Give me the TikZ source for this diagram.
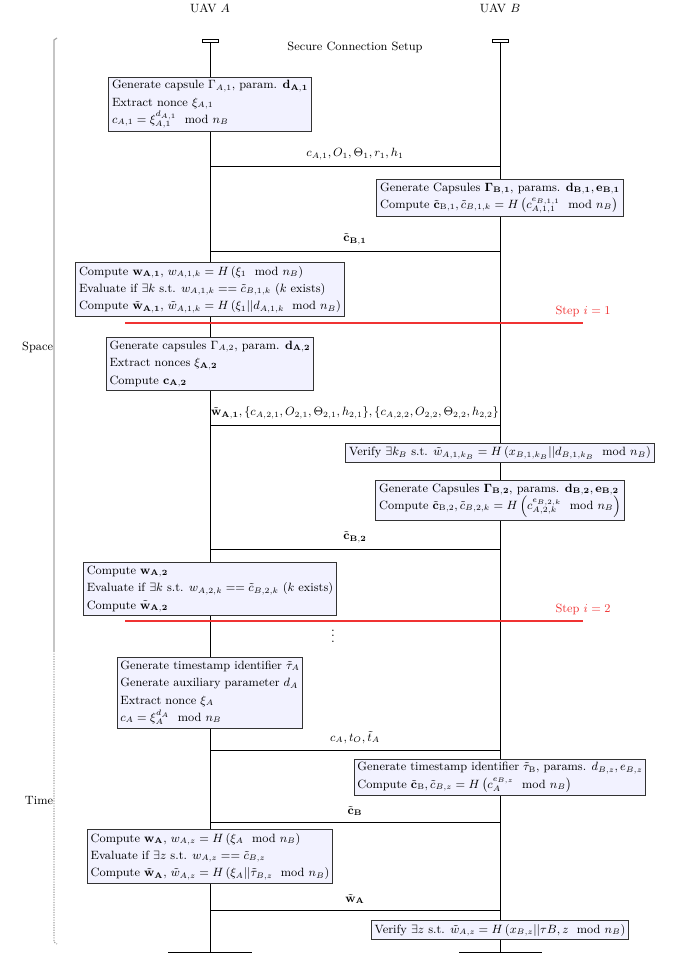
\documentclass[tikz,border=0pt]{standalone}
\usepackage{amsmath}
\definecolor{steprd}{RGB}{240,50,50}
\begin{document}
\begin{tikzpicture}[x=0.75pt,y=-0.75pt,
  box/.style={draw=black!80, line width=0.8pt, fill=blue!5, align=left, inner sep=2.5pt, font=\fontsize{9}{13}\selectfont},
  life/.style={line width=0.6pt},
  msg/.style={line width=0.6pt},
  lbl/.style={font=\fontsize{9}{11}\selectfont, above=1pt, midway},
  hdr/.style={font=\fontsize{9}{11}\selectfont},
  stepline/.style={draw=steprd, line width=0.85pt},
  steplbl/.style={text=steprd, font=\fontsize{9}{11}\selectfont, above=1pt},
  brace/.style={gray!70, line width=0.9pt},
  sidelbl/.style={font=\fontsize{9}{11}\selectfont, anchor=east, inner sep=0.5pt}]
\useasboundingbox (0,0) rectangle (672,955);

% headers
\node[hdr] (hA) at (210,8) {UAV $A$};
\node[hdr] (hB) at (500,8) {UAV $B$};
\node[hdr] (title) at (355,47) {Secure Connection Setup};

% lifelines
\coordinate (Atop) at (210,42);
\coordinate (Abot) at (210,952);
\coordinate (Btop) at (500,42);
\coordinate (Bbot) at (500,952);
\draw[life] (Atop) -- (Abot);
\draw[life] (Btop) -- (Bbot);
\draw[life] (202,39) rectangle (218,42);
\draw[life] (492,39) rectangle (508,42);
\coordinate (AbL) at (168,952); \coordinate (AbR) at (252,952);
\coordinate (BbL) at (459,952); \coordinate (BbR) at (542,952);
\draw[life] (AbL) -- (AbR);
\draw[life] (BbL) -- (BbR);

% left brace
\coordinate (brT) at (54,40);
\coordinate (brM) at (54,651);
\coordinate (brB) at (54,942);
\draw[brace] (57,38) -- (brT) -- (brM);
\draw[brace, densely dotted] (brM) -- (brB) -- (57,944);
\node[sidelbl] (space) at (54,347) {Space};
\node[sidelbl] (time) at (54,800) {Time};

% messages
\coordinate (m1a) at (210,166); \coordinate (m1b) at (500,166);
\draw[msg] (m1a) -- node[lbl] {$c_{A,1}, O_1, \Theta_1, r_1, h_1$} (m1b);
\coordinate (m2a) at (210,251); \coordinate (m2b) at (500,251);
\draw[msg] (m2b) -- node[lbl] {$\tilde{\mathbf{c}}_{\mathbf{B,1}}$} (m2a);
\coordinate (m3a) at (210,425); \coordinate (m3b) at (500,425);
\draw[msg] (m3a) -- node[lbl] {$\tilde{\mathbf{w}}_{\mathbf{A,1}}, \{c_{A,2,1}, O_{2,1}, \Theta_{2,1}, h_{2,1}\}, \{c_{A,2,2}, O_{2,2}, \Theta_{2,2}, h_{2,2}\}$} (m3b);
\coordinate (m4a) at (210,549); \coordinate (m4b) at (500,549);
\draw[msg] (m4b) -- node[lbl] {$\tilde{\mathbf{c}}_{\mathbf{B,2}}$} (m4a);
\coordinate (m5a) at (210,750); \coordinate (m5b) at (500,750);
\draw[msg] (m5a) -- node[lbl] {$c_A, t_O, \tilde{t}_A$} (m5b);
\coordinate (m6a) at (210,822); \coordinate (m6b) at (500,822);
\draw[msg] (m6b) -- node[lbl] {$\tilde{\mathbf{c}}_{\mathbf{B}}$} (m6a);
\coordinate (m7a) at (210,910); \coordinate (m7b) at (500,910);
\draw[msg] (m7a) -- node[lbl] {$\tilde{\mathbf{w}}_{\mathbf{A}}$} (m7b);

% step lines
\coordinate (s1a) at (125,323); \coordinate (s1b) at (583,323);
\draw[stepline] (s1a) -- (s1b) node[steplbl] (st1) {Step $i = 1$};
\coordinate (s2a) at (125,621); \coordinate (s2b) at (583,621);
\draw[stepline] (s2a) -- (s2b) node[steplbl] (st2) {Step $i = 2$};
\node (dots) at (333,632) {$\vdots$};

% boxes
\node[box] (A1) at (210,104.5) {Generate capsule $\Gamma_{A,1}$, param. $\mathbf{d_{A,1}}$\\
Extract nonce $\xi_{A,1}$\\
$c_{A,1} = \xi_{A,1}^{d_{A,1}} \mod n_B$};

\node[box] (B1) at (500,198) {Generate Capsules $\mathbf{\Gamma_{B,1}}$, params. $\mathbf{d_{B,1}}, \mathbf{e_{B,1}}$\\
Compute $\tilde{\mathbf{c}}_{\mathrm{B},1}, \tilde{c}_{B,1,k} = H\left(c_{A,1,1}^{e_{B,1,1}} \mod n_B\right)$};

\node[box] (A2) at (210,289.5) {Compute $\mathbf{w_{A,1}}$, $w_{A,1,k} = H\left(\xi_1 \mod n_B\right)$\\
Evaluate if $\exists k$ s.t. $w_{A,1,k} == \tilde{c}_{B,1,k}$ ($k$ exists)\\
Compute $\tilde{\mathbf{w}}_{\mathbf{A,1}}$, $\tilde{w}_{A,1,k} = H\left(\xi_1 || d_{A,1,k} \mod n_B\right)$};

\node[box] (A3) at (210,364) {Generate capsules $\Gamma_{A,2}$, param. $\mathbf{d_{A,2}}$\\
Extract nonces $\xi_{\mathbf{A,2}}$\\
Compute $\mathbf{c_{A,2}}$};

\node[box] (B2) at (500,453) {Verify $\exists k_B$ s.t. $\tilde{w}_{A,1,k_B} = H\left(x_{B,1,k_B} || d_{B,1,k_B} \mod n_B\right)$};

\node[box] (B3) at (500,500.5) {Generate Capsules $\mathbf{\Gamma_{B,2}}$, params. $\mathbf{d_{B,2}}, \mathbf{e_{B,2}}$\\
Compute $\tilde{\mathbf{c}}_{\mathrm{B},2}, \tilde{c}_{B,2,k} = H\left(c_{A,2,k}^{e_{B,2,k}} \mod n_B\right)$};

\node[box] (A4) at (210,589) {Compute $\mathbf{w_{A,2}}$\\
Evaluate if $\exists k$ s.t. $w_{A,2,k} == \tilde{c}_{B,2,k}$ ($k$ exists)\\
Compute $\tilde{\mathbf{w}}_{\mathbf{A,2}}$};

\node[box] (A5) at (210,693) {Generate timestamp identifier $\tilde{\tau}_A$\\
Generate auxiliary parameter $d_A$\\
Extract nonce $\xi_A$\\
$c_A = \xi_A^{d_A} \mod n_B$};

\node[box] (B4) at (500,777.5) {Generate timestamp identifier $\tilde{\tau}_{\mathrm{B}}$, params. $d_{B,z}, e_{B,z}$\\
Compute $\tilde{\mathbf{c}}_{\mathrm{B}}, \tilde{c}_{B,z} = H\left(c_A^{e_{B,z}} \mod n_B\right)$};

\node[box] (A6) at (210,856.5) {Compute $\mathbf{w_A}$, $w_{A,z} = H\left(\xi_A \mod n_B\right)$\\
Evaluate if $\exists z$ s.t. $w_{A,z} == \tilde{c}_{B,z}$\\
Compute $\tilde{\mathbf{w}}_{\mathbf{A}}$, $\tilde{w}_{A,z} = H\left(\xi_A || \tilde{\tau}_{B,z} \mod n_B\right)$};

\node[box] (B5) at (500,930) {Verify $\exists z$ s.t. $\tilde{w}_{A,z} = H\left(x_{B,z} || \tau B, z \mod n_B\right)$};
\end{tikzpicture}
\end{document}
